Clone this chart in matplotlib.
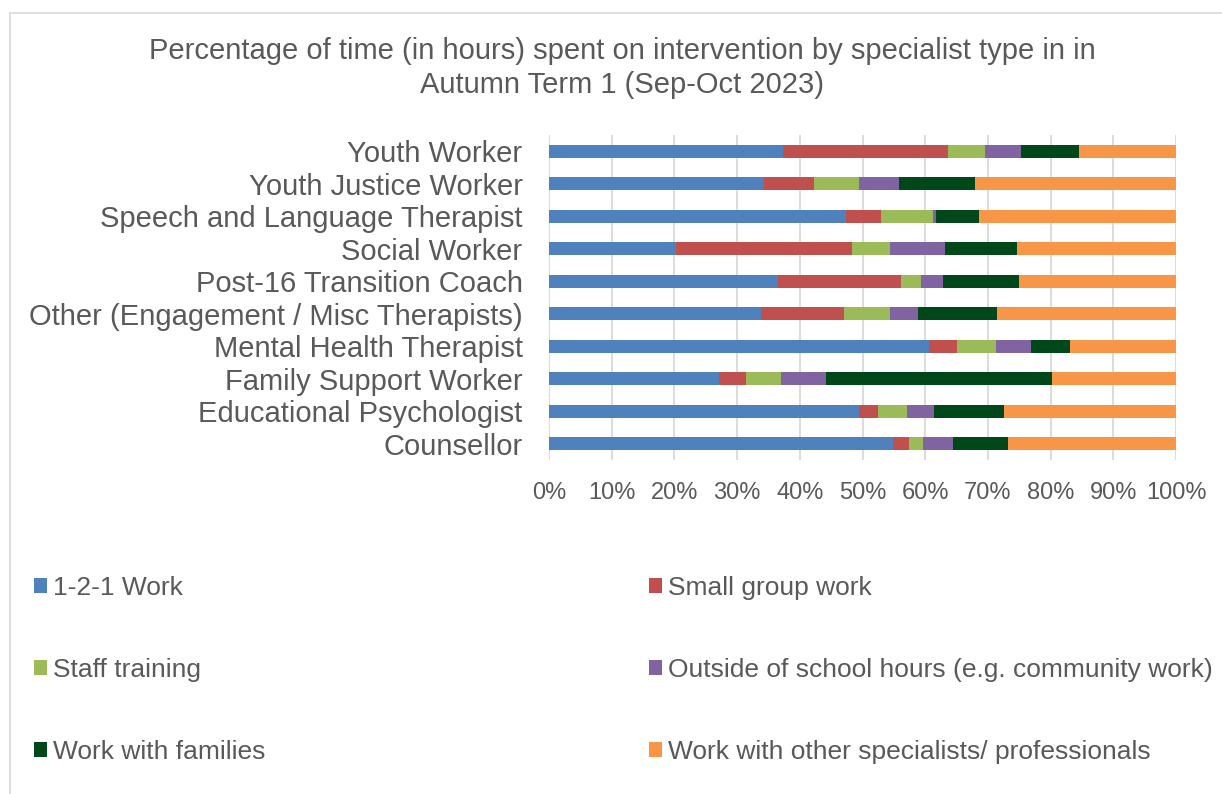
import matplotlib.pyplot as plt
from matplotlib.patches import Rectangle, Patch

plt.rcParams['font.family'] = ['Liberation Sans', 'DejaVu Sans']

# categories bottom to top
specialists = ["Counsellor", "Educational Psychologist", "Family Support Worker",
               "Mental Health Therapist", "Other (Engagement / Misc Therapists)",
               "Post-16 Transition Coach", "Social Worker",
               "Speech and Language Therapist", "Youth Justice Worker", "Youth Worker"]

one_to_one = [54.9, 49.5, 27.1, 60.6, 33.8, 36.5, 20.3, 47.3, 34.3, 37.3]
small_group = [2.5, 2.9, 4.3, 4.5, 13.2, 19.6, 28.1, 5.6, 7.9, 26.3]
staff_training = [2.2, 4.7, 5.6, 6.2, 7.4, 3.3, 6.0, 8.4, 7.2, 5.9]
outside_hours = [4.9, 4.3, 7.2, 5.6, 4.4, 3.5, 8.8, 0.4, 6.5, 5.8]
families = [8.7, 11.1, 36.1, 6.2, 12.6, 12.1, 11.4, 6.9, 12.1, 9.3]
other_prof = [26.8, 27.5, 19.7, 16.9, 28.6, 25.0, 25.4, 31.4, 32.0, 15.4]

series = [
    ("1-2-1 Work", one_to_one, "#4f81bd"),
    ("Small group work", small_group, "#c0504d"),
    ("Staff training", staff_training, "#9bbb59"),
    ("Outside of school hours (e.g. community work)", outside_hours, "#8064a2"),
    ("Work with families", families, "#00481a"),
    ("Work with other specialists/ professionals", other_prof, "#f79646"),
]

grey = "#595959"
fig = plt.figure(figsize=(12.22, 7.94), dpi=100)
fig.patches.append(Rectangle((10 / 1222, -0.1), 1.2, 1 - 13 / 794 + 0.1,
                             transform=fig.transFigure, fill=False,
                             edgecolor="#d9d9d9", linewidth=1.2))

ax = fig.add_axes([549 / 1222, 1 - 460 / 794, 627 / 1222, 325 / 794])

left = [0.0] * len(specialists)
ypos = range(len(specialists))
for name, vals, col in series:
    totals = [sum(s[1][i] for s in series) for i in ypos]
    pct = [v / t * 100 for v, t in zip(vals, totals)]
    ax.barh(ypos, pct, left=left, height=0.4, color=col, label=name, zorder=3)
    left = [a + b for a, b in zip(left, pct)]

ax.set_xlim(0, 100)
ax.set_ylim(-0.5, len(specialists) - 0.5)
ax.set_xticks(range(0, 101, 10))
ax.set_xticklabels([f"{v}%" for v in range(0, 101, 10)])
ax.set_yticks(list(ypos))
ax.set_yticklabels(specialists)
ax.tick_params(axis="y", length=0, pad=19, labelsize=21, labelcolor=grey)
ax.tick_params(axis="x", length=0, pad=16, labelsize=17, labelcolor=grey)
ax.grid(axis="x", color="#d9d9d9", linewidth=1.3, zorder=0)
for s in ax.spines.values():
    s.set_visible(False)

fig.text(622 / 1222, 1 - 51 / 794, "Percentage of time (in hours) spent on intervention by specialist type in in",
         ha="center", va="center", fontsize=21, color=grey)
fig.text(622 / 1222, 1 - 85 / 794, "Autumn Term 1 (Sep-Oct 2023)",
         ha="center", va="center", fontsize=21, color=grey)

handles = [Patch(facecolor=c, label=n) for n, _, c in series]
for idx, x0 in ((0, 23 / 1222), (1, 638 / 1222)):
    fig.legend(handles=handles[idx::2], loc="upper left",
               bbox_to_anchor=(x0, 1 - 565 / 794), frameon=False, ncol=1,
               fontsize=19, labelcolor=grey, handlelength=0.5, handleheight=0.5,
               handletextpad=0.25, labelspacing=2.2, borderaxespad=0)

fig.savefig("out.png", dpi=100)
